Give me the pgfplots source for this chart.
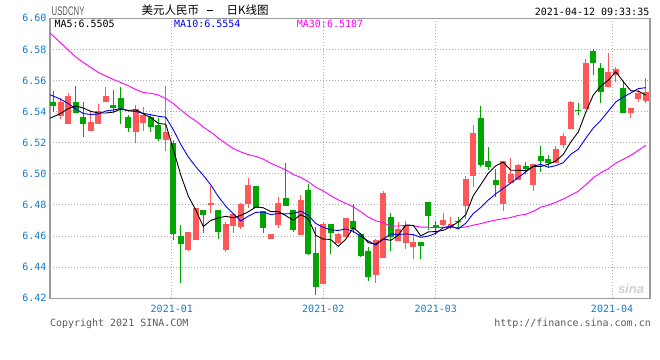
\documentclass[border=0pt]{standalone}
\usepackage{pgfplots}
\pgfplotsset{compat=1.18}
\usepackage{pgfplotstable}
\usepackage{graphicx}
\usepackage{fontspec}
\setmainfont{DejaVu Sans}
\setmonofont{DejaVu Sans Mono}
\newfontfamily\cjk{Noto Sans CJK SC}
\newfontfamily\lib{Liberation Sans}
\definecolor{cred}{RGB}{255,88,88}
\definecolor{cgreen}{RGB}{0,165,0}
\definecolor{tickblue}{RGB}{20,125,205}
\definecolor{maten}{RGB}{0,0,255}
\definecolor{mathirty}{RGB}{255,0,255}
\definecolor{framegray}{RGB}{155,155,155}
\definecolor{gridgray}{RGB}{175,175,175}
\definecolor{txtgray}{RGB}{90,90,90}
\newcommand\ft{\fontsize{10bp}{12bp}\selectfont\ttfamily}

% red (rising) candles: index open high low close
\pgfplotstableread{
i o h l c
1 6.5374 6.5486 6.5353 6.5462
2 6.5322 6.5520 6.5322 6.5500
5 6.5277 6.5400 6.5277 6.5333
6 6.5322 6.5449 6.5322 6.5404
7 6.5462 6.5558 6.5462 6.5500
11 6.5271 6.5443 6.5196 6.5417
12 6.5329 6.5430 6.5277 6.5378
15 6.5220 6.5565 6.5149 6.5271
18 6.4512 6.4626 6.4506 6.4626
19 6.4577 6.4782 6.4577 6.4782
21 6.4798 6.4922 6.4746 6.4811
23 6.4512 6.4692 6.4498 6.4678
24 6.4665 6.4746 6.4618 6.4740
25 6.4660 6.4815 6.4644 6.4806
26 6.4808 6.4971 6.4779 6.4928
29 6.4583 6.4613 6.4583 6.4613
30 6.4673 6.4849 6.4654 6.4811
33 6.4607 6.4864 6.4607 6.4832
36 6.4292 6.4692 6.4292 6.4678
38 6.4554 6.4618 6.4549 6.4611
39 6.4596 6.4716 6.4592 6.4716
43 6.4352 6.4579 6.4300 6.4575
44 6.4459 6.4892 6.4459 6.4879
46 6.4568 6.4690 6.4568 6.4644
47 6.4557 6.4695 6.4515 6.4665
48 6.4532 6.4611 6.4455 6.4562
52 6.4673 6.4748 6.4665 6.4703
53 6.4665 6.4721 6.4644 6.4678
55 6.4793 6.4986 6.4708 6.4967
56 6.4986 6.5314 6.4917 6.5263
60 6.4804 6.5083 6.4763 6.5083
61 6.4943 6.5102 6.4943 6.4999
62 6.4960 6.5063 6.4960 6.5057
64 6.4928 6.5063 6.4892 6.5063
67 6.5068 6.5179 6.5068 6.5162
68 6.5185 6.5265 6.5164 6.5243
69 6.5290 6.5468 6.5290 6.5462
71 6.5415 6.5736 6.5415 6.5711
74 6.5556 6.5775 6.5556 6.5655
75 6.5637 6.5685 6.5590 6.5672
77 6.5393 6.5421 6.5361 6.5421
78 6.5481 6.5539 6.5464 6.5518
79 6.5470 6.5614 6.5457 6.5526
}\up

% green (falling) candles: index open high low close
\pgfplotstableread{
i o h l c
0 6.5462 6.5533 6.5396 6.5436
3 6.5462 6.5565 6.5389 6.5393
4 6.5365 6.5462 6.5239 6.5322
8 6.5443 6.5539 6.5389 6.5425
9 6.5488 6.5558 6.5322 6.5415
10 6.5365 6.5378 6.5271 6.5297
13 6.5365 6.5378 6.5271 6.5303
14 6.5314 6.5357 6.5213 6.5226
16 6.5200 6.5218 6.4575 6.4611
17 6.4600 6.4671 6.4296 6.4549
20 6.4768 6.4768 6.4618 6.4735
22 6.4768 6.4768 6.4579 6.4628
27 6.4922 6.4922 6.4782 6.4782
28 6.4761 6.4761 6.4622 6.4654
31 6.4843 6.5068 6.4793 6.4793
32 6.4768 6.4768 6.4628 6.4639
34 6.4896 6.4935 6.4478 6.4485
35 6.4489 6.4660 6.4221 6.4275
37 6.4678 6.4678 6.4483 6.4622
40 6.4697 6.4804 6.4618 6.4645
41 6.4611 6.4618 6.4467 6.4474
42 6.4504 6.4532 6.4311 6.4339
45 6.4723 6.4746 6.4506 6.4596
49 6.4562 6.4562 6.4455 6.4538
50 6.4819 6.4819 6.4639 6.4729
51 6.4671 6.4699 6.4607 6.4654
54 6.4697 6.4721 6.4644 6.4690
57 6.5361 6.5436 6.5046 6.5057
58 6.5083 6.5175 6.5025 6.5046
59 6.4960 6.5029 6.4849 6.4928
63 6.5050 6.5076 6.4999 6.5033
65 6.5115 6.5179 6.5014 6.5085
66 6.5095 6.5121 6.5046 6.5072
70 6.5411 6.5457 6.5378 6.5404
72 6.5790 6.5801 6.5636 6.5715
73 6.5680 6.5711 6.5457 6.5528
76 6.5550 6.5590 6.5393 6.5393
}\down

% moving averages MA5 MA10 MA30
\pgfplotstableread{
i m5 m10 m30
-1 6.5346 6.5520 6.5931
0 6.5367 6.5500 6.5886
1 6.5389 6.5479 6.5841
2 6.5420 6.5452 6.5796
3 6.5436 6.5417 6.5751
4 6.5423 6.5388 6.5716
5 6.5402 6.5381 6.5684
6 6.5391 6.5385 6.5652
7 6.5391 6.5404 6.5629
8 6.5397 6.5411 6.5607
9 6.5416 6.5419 6.5587
10 6.5408 6.5405 6.5567
11 6.5411 6.5401 6.5542
12 6.5386 6.5389 6.5523
13 6.5362 6.5380 6.5518
14 6.5324 6.5370 6.5507
15 6.5319 6.5364 6.5484
16 6.5158 6.5284 6.5452
17 6.4992 6.5189 6.5411
18 6.4857 6.5109 6.5372
19 6.4768 6.5046 6.5340
20 6.4661 6.4990 6.5301
21 6.4701 6.4929 6.5269
22 6.4717 6.4854 6.5230
23 6.4727 6.4792 6.5195
24 6.4718 6.4743 6.5163
25 6.4733 6.4697 6.5141
26 6.4756 6.4728 6.5124
27 6.4787 6.4752 6.5112
28 6.4782 6.4755 6.5095
29 6.4757 6.4738 6.5068
30 6.4758 6.4745 6.5047
31 6.4731 6.4743 6.5025
32 6.4702 6.4745 6.4996
33 6.4738 6.4760 6.4977
34 6.4712 6.4734 6.4949
35 6.4605 6.4681 6.4914
36 6.4581 6.4656 6.4890
37 6.4578 6.4640 6.4860
38 6.4534 6.4636 6.4833
39 6.4580 6.4646 6.4810
40 6.4654 6.4630 6.4788
41 6.4613 6.4598 6.4757
42 6.4557 6.4568 6.4722
43 6.4549 6.4542 6.4698
44 6.4582 6.4581 6.4686
45 6.4572 6.4613 6.4664
46 6.4606 6.4610 6.4665
47 6.4671 6.4614 6.4669
48 6.4669 6.4609 6.4667
49 6.4601 6.4592 6.4658
50 6.4627 6.4600 6.4658
51 6.4629 6.4618 6.4653
52 6.4637 6.4654 6.4656
53 6.4660 6.4665 6.4656
54 6.4691 6.4646 6.4654
55 6.4738 6.4683 6.4659
56 6.4860 6.4745 6.4670
57 6.4931 6.4784 6.4680
58 6.5005 6.4832 6.4693
59 6.5052 6.4872 6.4703
60 6.5075 6.4907 6.4712
61 6.5023 6.4941 6.4719
62 6.5023 6.4977 6.4733
63 6.5020 6.5012 6.4740
64 6.5047 6.5050 6.4759
65 6.5047 6.5061 6.4786
66 6.5062 6.5042 6.4799
67 6.5083 6.5053 6.4817
68 6.5125 6.5072 6.4838
69 6.5205 6.5126 6.4863
70 6.5269 6.5158 6.4888
71 6.5396 6.5229 6.4930
72 6.5507 6.5295 6.4975
73 6.5564 6.5344 6.5007
74 6.5602 6.5403 6.5033
75 6.5656 6.5462 6.5069
76 6.5593 6.5494 6.5094
77 6.5534 6.5520 6.5119
78 6.5532 6.5548 6.5151
79 6.5506 6.5554 6.5184
}\ma

\pgfplotsset{candle/.style={only marks, mark=*, mark size=0pt,
  mark options={draw=none, fill=none}, forget plot}}

\begin{document}
\begin{tikzpicture}
\path[use as bounding box, fill=white] (0,0) rectangle (660bp,-360bp);
\begin{axis}[
  at={(50bp,-298.3bp)}, anchor=south west,
  scale only axis, width=600bp, height=280bp,
  xmin=-0.44, xmax=79.56, ymin=6.42, ymax=6.60,
  axis line style={draw=framegray, line width=1.2bp},
  xtick={15.8,36,51,74.5},
  xticklabels={2021-01,2021-02,2021-03,2021-04},
  ytick={6.42,6.44,6.46,6.48,6.50,6.52,6.54,6.56,6.58,6.60},
  scaled y ticks=false,
  y tick label style={/pgf/number format/fixed, /pgf/number format/fixed zerofill, /pgf/number format/precision=2},
  /pgf/number format/assume math mode=true,
  tick label style={font=\ft, text=tickblue},
  xticklabel style={yshift=-3bp},
  major tick length=0pt,
  xmajorgrids, ymajorgrids,
  grid style={draw=gridgray, line width=1bp, dash pattern=on 1bp off 2bp},
]
% wicks
\addplot[candle,
  error bars/.cd, y dir=plus, y explicit, error mark=none,
  error bar style={draw=cred, line width=1bp}]
  table[x=i, y=l, y error plus expr=\thisrow{h}-\thisrow{l}] {\up};
\addplot[candle,
  error bars/.cd, y dir=plus, y explicit, error mark=none,
  error bar style={draw=cgreen, line width=1bp}]
  table[x=i, y=l, y error plus expr=\thisrow{h}-\thisrow{l}] {\down};
% bodies
\addplot[candle,
  error bars/.cd, y dir=plus, y explicit, error mark=none,
  error bar style={draw=cred, line width=6bp}]
  table[x=i, y=o, y error plus expr=\thisrow{c}-\thisrow{o}] {\up};
\addplot[candle,
  error bars/.cd, y dir=plus, y explicit, error mark=none,
  error bar style={draw=cgreen, line width=6bp}]
  table[x=i, y=c, y error plus expr=\thisrow{o}-\thisrow{c}] {\down};
% moving averages
\addplot[mathirty, line width=0.9bp] table[x=i, y=m30] {\ma};
\addplot[maten, line width=0.9bp] table[x=i, y=m10] {\ma};
\addplot[black, line width=0.9bp] table[x=i, y=m5] {\ma};
\end{axis}
% header
\node[anchor=west, inner sep=0pt, text=txtgray] at (51.5bp,-11.2bp)
  {\scalebox{0.62}[1]{\lib\fontsize{12.5bp}{13bp}\selectfont USDCNY}};
\node[anchor=west, inner sep=0pt] at (141.5bp,-10bp)
  {\cjk\fontsize{11.5bp}{12bp}\selectfont 美元人民币};
\node[anchor=center, inner sep=0pt] at (210bp,-10.5bp) {\rule{6.5bp}{1bp}};
\node[anchor=west, inner sep=0pt] at (226.5bp,-10bp)
  {\cjk\fontsize{11.5bp}{12bp}\selectfont 日K线图};
\node[anchor=east, inner sep=0pt] at (649.5bp,-11.5bp) {\ft 2021-04-12 09:33:35};
% MA legend
\node[anchor=west, inner sep=0pt, text=black] at (54.3bp,-24bp) {\ft MA5:6.5505};
\node[anchor=west, inner sep=0pt, text=maten] at (174bp,-24bp) {\ft MA10:6.5554};
\node[anchor=west, inner sep=0pt, text=mathirty] at (296.7bp,-24bp) {\ft MA30:6.5187};
% footer
\node[anchor=west, inner sep=0pt, text=txtgray] at (49.8bp,-323.5bp) {\ft Copyright 2021 SINA.COM};
\node[anchor=east, inner sep=0pt, text=txtgray] at (651bp,-323.5bp) {\ft http://finance.sina.com.cn};
% watermark
\node[inner sep=0pt, text=gray!35] at (631bp,-289bp)
  {\lib\bfseries\itshape\fontsize{13bp}{13bp}\selectfont sina};
\end{tikzpicture}
\end{document}
